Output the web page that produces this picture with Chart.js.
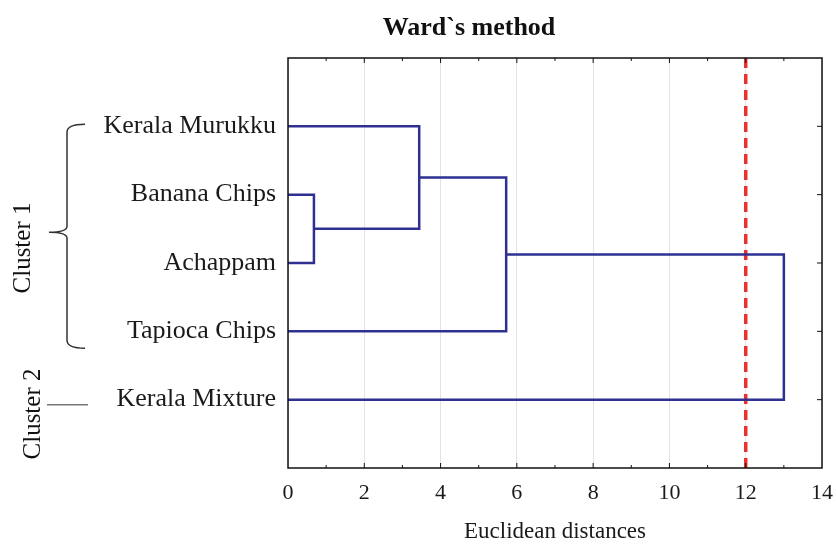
<!DOCTYPE html>
<html>
<head>
<meta charset="utf-8">
<script src="https://cdn.jsdelivr.net/npm/chart.js@4/dist/chart.umd.min.js"></script>
<style>
  html, body { margin: 0; padding: 0; background: #fff; }
  #wrap { width: 836px; height: 546px; }
</style>
</head>
<body>
<div id="wrap"><canvas id="dendroChart"></canvas></div>
<script>
"use strict";

var leaves = ['Kerala Murukku', 'Banana Chips', 'Achappam', 'Tapioca Chips', 'Kerala Mixture'];
// each merge: [left node, right node, distance]; nodes >= leaves.length are earlier merges
var merges = [[1, 2, 0.68], [0, 5, 3.44], [6, 3, 5.72], [7, 4, 13.0]];
var cutDistance = 12;
var xTicks = [0, 2, 4, 6, 8, 10, 12, 14];

var serif = '"Liberation Serif", "DejaVu Serif", serif';
var blue = '#2e3192';

// node positions (row) and heights (distance)
var pos = leaves.map((l, i) => i + 1);
var height = leaves.map(() => 0);
var linkSets = [];
merges.forEach((m) => {
  var a = m[0], b = m[1], d = m[2];
  linkSets.push({
    data: [
      { x: height[a], y: pos[a] },
      { x: d, y: pos[a] },
      { x: d, y: pos[b] },
      { x: height[b], y: pos[b] }
    ],
    showLine: true,
    borderColor: blue,
    borderWidth: 2.5,
    pointRadius: 0,
    tension: 0
  });
  pos.push((pos[a] + pos[b]) / 2);
  height.push(d);
});

linkSets.push({
  data: [{ x: cutDistance, y: 0 }, { x: cutDistance, y: leaves.length + 1 }],
  showLine: true,
  borderColor: '#ec2f2f',
  borderWidth: 3.5,
  borderDash: [10, 6],
  pointRadius: 0
});

var framePlugin = {
  id: 'frame',
  afterDatasetsDraw(chart) {
    var ctx = chart.ctx, a = chart.chartArea;
    var xs = chart.scales.x, ys = chart.scales.y;
    ctx.save();
    ctx.strokeStyle = '#111';
    ctx.lineWidth = 1.5;
    ctx.strokeRect(a.left, a.top, a.right - a.left, a.bottom - a.top);
    ctx.lineWidth = 1;
    for (var v = 1; v < 14; v++) {
      var px = xs.getPixelForValue(v);
      var len = v % 2 === 0 ? 5 : 3;
      ctx.beginPath();
      ctx.moveTo(px, a.bottom); ctx.lineTo(px, a.bottom - len);
      ctx.moveTo(px, a.top); ctx.lineTo(px, a.top + len);
      ctx.stroke();
    }
    leaves.forEach((l, i) => {
      var py = ys.getPixelForValue(i + 1);
      ctx.beginPath();
      ctx.moveTo(a.right, py); ctx.lineTo(a.right - 5, py);
      ctx.stroke();
    });
    ctx.restore();
  },
  afterDraw(chart) {
    var ctx = chart.ctx, ys = chart.scales.y;
    ctx.save();
    ctx.fillStyle = '#111';
    ctx.font = 'bold 26px ' + serif;
    ctx.textAlign = 'center';
    ctx.textBaseline = 'middle';
    ctx.fillText('Ward`s method', 469, 28);

    // brace for cluster 1
    var top = ys.getPixelForValue(1) - 2;
    var bot = ys.getPixelForValue(4) + 17;
    var mid = (top + bot) / 2 - 4;
    var bx = 67;
    ctx.strokeStyle = '#333';
    ctx.lineWidth = 1.5;
    ctx.beginPath();
    ctx.moveTo(bx + 18, top);
    ctx.quadraticCurveTo(bx, top, bx, top + 8);
    ctx.lineTo(bx, mid - 6);
    ctx.quadraticCurveTo(bx, mid, bx - 18, mid);
    ctx.quadraticCurveTo(bx, mid, bx, mid + 6);
    ctx.lineTo(bx, bot - 8);
    ctx.quadraticCurveTo(bx, bot, bx + 18, bot);
    ctx.stroke();

    // line for cluster 2
    var y5 = ys.getPixelForValue(5) + 5;
    ctx.strokeStyle = '#777';
    ctx.beginPath();
    ctx.moveTo(47, y5); ctx.lineTo(88, y5);
    ctx.stroke();

    ctx.font = '25px ' + serif;
    ctx.translate(23, 248);
    ctx.rotate(-Math.PI / 2);
    ctx.fillText('Cluster 1', 0, 0);
    ctx.rotate(Math.PI / 2);
    ctx.translate(-23, -248);
    ctx.translate(33, 414);
    ctx.rotate(-Math.PI / 2);
    ctx.fillText('Cluster 2', 0, 0);
    ctx.restore();
  }
};

var ctx = document.getElementById('dendroChart').getContext('2d');
var dendroChart = new Chart(ctx, {
  type: 'scatter',
  data: { datasets: linkSets },
  options: {
    responsive: true,
    maintainAspectRatio: false,
    animation: { duration: 0 },
    layout: { padding: { left: 0, right: 14, top: 58, bottom: 0 } },
    plugins: {
      legend: { display: false },
      tooltip: { enabled: false }
    },
    scales: {
      x: {
        type: 'linear',
        min: xTicks[0],
        max: xTicks[xTicks.length - 1],
        afterBuildTicks: (scale) => { scale.ticks = xTicks.map((v) => ({ value: v })); },
        afterFit: (scale) => {
          scale.height = 78;
          scale.paddingLeft = 0;
          scale.paddingRight = 0;
        },
        ticks: { color: '#1a1a1a', font: { family: serif, size: 22 }, padding: 12 },
        grid: { color: '#e3e3e3', lineWidth: 1, drawTicks: false },
        border: { display: false },
        title: {
          display: true,
          text: 'Euclidean distances',
          color: '#1a1a1a',
          font: { family: serif, size: 23 },
          padding: { top: 0, bottom: 0 }
        }
      },
      y: {
        type: 'linear',
        min: 0,
        max: leaves.length + 1,
        reverse: true,
        afterBuildTicks: (scale) => { scale.ticks = leaves.map((l, i) => ({ value: i + 1 })); },
        afterFit: (scale) => {
          scale.width = 288;
          scale.paddingTop = 0;
          scale.paddingBottom = 0;
        },
        ticks: {
          color: '#1a1a1a',
          font: { family: serif, size: 26 },
          padding: 12,
          callback: (v) => leaves[v - 1]
        },
        grid: { display: false, drawTicks: false },
        border: { display: false }
      }
    }
  },
  plugins: [framePlugin]
});
</script>
</body>
</html>
